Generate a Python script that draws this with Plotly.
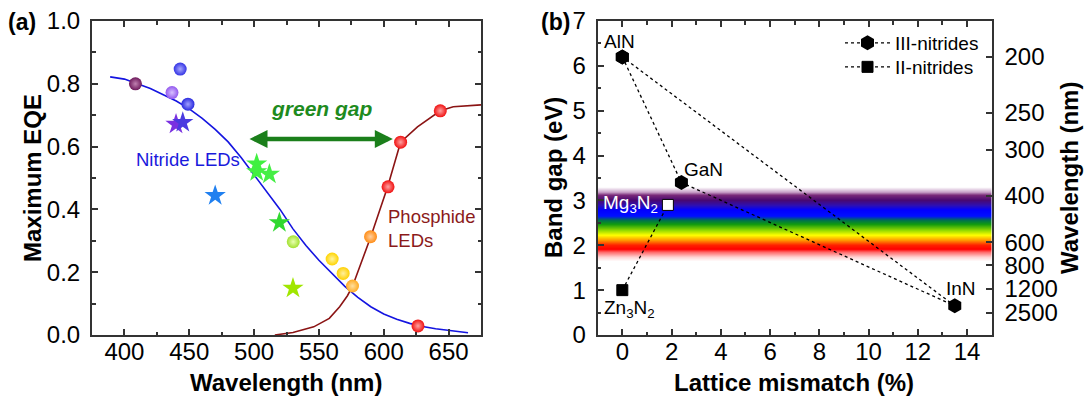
import plotly.graph_objects as go

FONT = "Liberation Sans, Arial, sans-serif"

# ---------------- Panel (a) data ----------------
sphere_wl = [408.5, 436.7, 443.0, 449.0, 530.2, 560.2, 568.7, 575.9, 589.8, 603.3, 613.0, 626.4, 643.6]
sphere_eqe = [0.800, 0.772, 0.847, 0.735, 0.297, 0.242, 0.196, 0.156, 0.313, 0.472, 0.614, 0.029, 0.714]
sphere_colors = ['#6e1a5c', '#9258ee', '#3434e4', '#2a2ade', '#a2e030', '#ffd400', '#ffd000',
                 '#ffaa22', '#ff8c14', '#f01010', '#f01010', '#f01010', '#f01010']
sphere_hilite = ['#c080b0', '#d8c0ff', '#a8a8ff', '#a0a0ff', '#e8ffb0', '#fff4a0', '#fff0a0',
                 '#ffe0a0', '#ffd0a0', '#ffa0a0', '#ffa0a0', '#ffa0a0', '#ffa0a0']

star_wl = [439.8, 445.0, 470.0, 502.0, 502.0, 511.8, 519.5, 530.0]
star_eqe = [0.671, 0.677, 0.444, 0.545, 0.520, 0.512, 0.358, 0.149]
star_colors = ['#7a30e0', '#4a3ae0', '#2080f0', '#40f040', '#40f040', '#44ee44', '#30d830', '#a0e600']

nitride_wl = [389, 400, 410, 420, 430, 440, 450, 460, 470, 480, 490, 500, 510, 520, 530, 540,
              550, 560, 570, 580, 590, 600, 610, 620, 630, 640, 650, 660, 665]
nitride_eqe = [0.822, 0.815, 0.800, 0.785, 0.765, 0.745, 0.720, 0.690, 0.655, 0.615, 0.565, 0.510,
               0.458, 0.400, 0.338, 0.285, 0.238, 0.195, 0.155, 0.120, 0.090, 0.067, 0.050, 0.037,
               0.027, 0.020, 0.014, 0.009, 0.007]

phosphide_wl = [516, 530, 546, 558, 566, 572, 576, 590, 603, 613, 626, 643.6, 653.6, 675]
phosphide_eqe = [0.000, 0.008, 0.026, 0.053, 0.090, 0.125, 0.156, 0.313, 0.472, 0.614, 0.663,
                 0.714, 0.727, 0.733]

# ---------------- Panel (b) data ----------------
iii_names = ['AlN', 'GaN', 'InN']
iii_mismatch = [0.0, 2.4, 13.5]
iii_gap = [6.2, 3.4, 0.65]

ii_names = ['Zn<sub>3</sub>N<sub>2</sub>', 'Mg<sub>3</sub>N<sub>2</sub>']
ii_mismatch = [0.0, 1.85]
ii_gap = [1.0, 2.9]

wl_ticks = [200, 250, 300, 400, 600, 800, 1200, 2500]

band_E = [1.65, 1.75, 1.85, 1.92, 2.02, 2.12, 2.23, 2.34, 2.48, 2.56, 2.67, 2.79, 2.90,
          3.01, 3.12, 3.20, 3.30]
band_colors = ['#ffffff', '#ffd4d4', '#ff6a6a', '#ff0000', '#ff2000', '#ff9a00', '#ffff00',
               '#90d800', '#109a10', '#007050', '#0010ff', '#0000ff', '#3010b0', '#4a0870',
               '#7a2a7a', '#c8a0c8', '#ffffff']

# ---------------- figure ----------------
fig = go.Figure()

# Panel (a) curves
fig.add_trace(go.Scatter(x=nitride_wl, y=nitride_eqe, mode='lines',
                         line=dict(color='#1414e0', width=1.6), showlegend=False,
                         xaxis='x', yaxis='y'))
fig.add_trace(go.Scatter(x=phosphide_wl, y=phosphide_eqe, mode='lines',
                         line=dict(color='#8b1414', width=1.6), showlegend=False,
                         xaxis='x', yaxis='y'))
fig.add_trace(go.Scatter(x=star_wl, y=star_eqe, mode='markers',
                         marker=dict(symbol='star', size=16, color=star_colors,
                                     line=dict(width=0)),
                         showlegend=False, xaxis='x', yaxis='y'))
fig.add_trace(go.Scatter(x=sphere_wl, y=sphere_eqe, mode='markers',
                         marker=dict(symbol='circle', size=13, color=sphere_colors,
                                     gradient=dict(type='radial', color=sphere_hilite),
                                     line=dict(width=0)),
                         showlegend=False, xaxis='x', yaxis='y'))

# Panel (b) spectrum band
lo, hi = band_E[0], band_E[-1]
cscale = [[(e - lo) / (hi - lo), c] for e, c in zip(band_E, band_colors)]
fig.add_trace(go.Heatmap(x=[-1, 15], y=band_E, z=[[e, e] for e in band_E],
                         colorscale=cscale, zmin=lo, zmax=hi, zsmooth='best',
                         showscale=False, hoverinfo='skip', xaxis='x2', yaxis='y2'))

fig.add_trace(go.Scatter(x=iii_mismatch + [iii_mismatch[0]], y=iii_gap + [iii_gap[0]],
                         mode='lines+markers', name='III-nitrides', legend='legend',
                         line=dict(color='black', width=1.3, dash='dot'),
                         marker=dict(symbol='hexagon', size=15, color='black'),
                         xaxis='x2', yaxis='y2'))
fig.add_trace(go.Scatter(x=ii_mismatch, y=ii_gap, mode='lines+markers', name='II-nitrides',
                         legend='legend2',
                         line=dict(color='black', width=1.3, dash='dot'),
                         marker=dict(symbol='square', size=11, color=['black', 'white'],
                                     line=dict(color='black', width=1)),
                         xaxis='x2', yaxis='y2'))
fig.add_trace(go.Scatter(x=[None], y=[None], xaxis='x2', yaxis='y3', showlegend=False,
                         hoverinfo='skip'))

AX = '#333333'
common = dict(showline=True, linecolor=AX, linewidth=2, ticks='inside', ticklen=6,
              tickwidth=1.5, tickcolor=AX, showgrid=False, zeroline=False, automargin=False,
              tickfont=dict(family=FONT, size=24, color='black'))

leg = dict(xanchor='left', yanchor='middle', bgcolor='rgba(0,0,0,0)',
           font=dict(family=FONT, size=19, color='black'), itemwidth=45)

ydom = [1 - 335 / 401, 1 - 21 / 401]
fig.update_layout(
    width=1086, height=401, margin=dict(l=0, r=0, t=0, b=0, autoexpand=False),
    paper_bgcolor='white', plot_bgcolor='white',
    xaxis=dict(domain=[92 / 1086, 481 / 1086], range=[375, 675], dtick=50, mirror='ticks',
               minor=dict(ticks='inside', ticklen=3.5, dtick=25, tickcolor=AX),
               ticklabelstandoff=-6, anchor='y', **common),
    yaxis=dict(domain=ydom, range=[0, 1.0], dtick=0.2, tickformat='.1f', mirror='ticks',
               minor=dict(ticks='inside', ticklen=3.5, dtick=0.1, tickcolor=AX),
               ticklabelstandoff=5, anchor='x', **common),
    xaxis2=dict(domain=[597.7 / 1086, 991.7 / 1086], range=[-1, 15], dtick=2, mirror='ticks',
                minor=dict(ticks='inside', ticklen=3.5, dtick=1, tickcolor=AX),
                ticklabelstandoff=-6, anchor='y2', **common),
    yaxis2=dict(domain=ydom, range=[0, 7], dtick=1, anchor='x2',
                minor=dict(ticks='inside', ticklen=3.5, dtick=0.5, tickcolor=AX),
                ticklabelstandoff=5, **common),
    yaxis3=dict(domain=ydom, range=[0, 7], overlaying='y2', side='right', anchor='x2',
                tickvals=[1240 / w for w in wl_ticks], ticktext=[str(w) for w in wl_ticks],
                ticklabelstandoff=6, **common),
    legend=dict(x=840 / 1086, y=1 - 43 / 401, **leg),
    legend2=dict(x=840 / 1086, y=1 - 67 / 401, **leg),
)

ann = []
def txt(text, x, y, size, color='black', xref='paper', yref='paper', **kw):
    kw.setdefault('xanchor', 'center')
    kw.setdefault('yanchor', 'middle')
    ann.append(dict(text=text, x=x, y=y, xref=xref, yref=yref, showarrow=False,
                    font=dict(family=FONT, size=size, color=color), **kw))

# panel labels and axis titles
txt('<b>(a)</b>', 22 / 1086, 1 - 22 / 401, 23)
txt('<b>(b)</b>', 555 / 1086, 1 - 22 / 401, 23)
txt('<b>Maximum EQE</b>', 32 / 1086, 1 - 178 / 401, 24, textangle=-90)
txt('<b>Wavelength (nm)</b>', 286 / 1086, 1 - 382 / 401, 24)
txt('<b>Band gap (eV)</b>', 553 / 1086, 1 - 178 / 401, 24, textangle=-90)
txt('<b>Lattice mismatch (%)</b>', 794 / 1086, 1 - 382 / 401, 24)
txt('<b>Wavelength (nm)</b>', 1069 / 1086, 1 - 178 / 401, 24, textangle=-90)

# panel (a) annotations
txt('Nitride LEDs', 448.8, 0.56, 18.5, color='#1a1adc', xref='x', yref='y')
txt('Phosphide<br>LEDs', 601.5, 0.338, 18.5, color='#8b1a1a', xref='x', yref='y',
    xanchor='left', align='left')
txt('<b><i>green gap</i></b>', 552, 0.72, 21, color='#1e8b1e', xref='x', yref='y')
ann.append(dict(x=607, y=0.624, ax=495.3, ay=0.624, xref='x', yref='y', axref='x', ayref='y',
                text='', showarrow=True, arrowside='end+start', arrowhead=2, startarrowhead=2,
                arrowsize=0.8, startarrowsize=0.8, arrowwidth=4.5, arrowcolor='#1b7f1b'))

# panel (b) labels
shifts = {'AlN': (-3, 15), 'GaN': (22, 13), 'InN': (6, 17)}
for n, xv, yv in zip(iii_names, iii_mismatch, iii_gap):
    dx, dy = shifts[n]
    txt(n, xv, yv, 19, xref='x2', yref='y2', xshift=dx, yshift=dy)
txt(ii_names[0], ii_mismatch[0], ii_gap[0], 19, xref='x2', yref='y2', xshift=7, yshift=-19)
txt(ii_names[1], ii_mismatch[1], ii_gap[1], 19, color='white', xref='x2', yref='y2',
    xanchor='right', xshift=-8, yshift=1)

fig.update_layout(annotations=ann)
fig.write_html("out.html", config={'displayModeBar': False},
               post_script="document.body.style.margin='0px';document.body.style.overflow='hidden';")
